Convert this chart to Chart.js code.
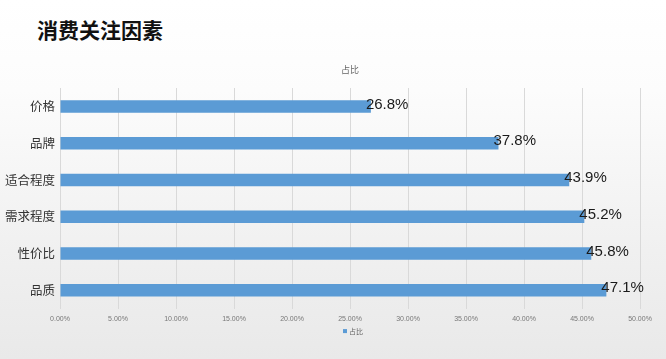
<!DOCTYPE html>
<html>
<head>
<meta charset="utf-8">
<script src="https://cdn.jsdelivr.net/npm/chart.js@4"></script>
<style>
  html, body { margin: 0; padding: 0; }
  body { width: 666px; height: 359px; overflow: hidden; position: relative;
         background: linear-gradient(to bottom, #ffffff 0%, #fcfcfc 25%, #f0f0f0 70%, #e9e9e9 100%);
         font-family: "Noto Sans CJK SC", sans-serif; }
  #title { position: absolute; left: 37px; top: 14px; margin: 0; font-size: 21px; font-weight: 700;
           color: #111; font-family: "Noto Sans CJK SC", sans-serif; line-height: 30px; }
  #wrap { position: absolute; left: 0; top: 0; width: 666px; height: 359px; }
</style>
</head>
<body>
<h1 id="title">消费关注因素</h1>
<div id="wrap"><canvas id="c" width="666" height="359"></canvas></div>
<script>
const categories = ["价格", "品牌", "适合程度", "需求程度", "性价比", "品质"];
const seriesName = "占比";
const values = [26.8, 37.8, 43.9, 45.2, 45.8, 47.1];
const valueLabels = ["26.8%", "37.8%", "43.9%", "45.2%", "45.8%", "47.1%"];
const xTickMax = 50;
const xTickStep = 5;
const barColor = '#5b9bd5';

const extras = {
  id: 'extras',
  afterDatasetsDraw(chart) {
    const ctx = chart.ctx;
    const meta = chart.getDatasetMeta(0);
    const ca = chart.chartArea;
    const cx = (ca.left + ca.right) / 2;
    ctx.save();
    // value labels
    ctx.font = '15px "Liberation Sans", Arial, sans-serif';
    ctx.fillStyle = '#1a1a1a';
    ctx.textAlign = 'left';
    ctx.textBaseline = 'middle';
    meta.data.forEach((bar, i) => {
      ctx.fillText(valueLabels[i], bar.x - 5, bar.y - 2);
    });
    // chart title
    ctx.font = '9px "Noto Sans CJK SC", sans-serif';
    ctx.fillStyle = '#666';
    ctx.textAlign = 'center';
    ctx.fillText(seriesName, cx, ca.top - 18);
    // legend
    ctx.font = '7px "Noto Sans CJK SC", sans-serif';
    ctx.textAlign = 'left';
    const ly = ca.bottom + 23;
    ctx.fillStyle = barColor;
    ctx.fillRect(cx - 7, ly - 2.5, 4, 4);
    ctx.fillStyle = '#666';
    ctx.fillText(seriesName, cx - 1, ly);
    ctx.restore();
  }
};

new Chart(document.getElementById('c'), {
  type: 'bar',
  data: {
    labels: categories,
    datasets: [{
      label: seriesName,
      data: values,
      backgroundColor: barColor,
      borderWidth: 0,
      barPercentage: 0.34,
      categoryPercentage: 1
    }]
  },
  options: {
    indexAxis: 'y',
    responsive: false,
    animation: false,
    devicePixelRatio: 1,
    layout: { padding: { top: 88, left: 0, right: 26, bottom: 30 } },
    plugins: {
      title: { display: false },
      legend: { display: false },
      tooltip: { enabled: false }
    },
    scales: {
      x: {
        min: 0, max: xTickMax,
        ticks: { stepSize: xTickStep, color: '#777', padding: 6,
                 font: { size: 7, family: '"Liberation Sans", Arial, sans-serif' },
                 callback: v => v.toFixed(2) + '%' },
        grid: { color: '#d9d9d9', lineWidth: 1, drawTicks: false },
        border: { display: false }
      },
      y: {
        ticks: { color: '#333', padding: 5,
                 font: { size: 12.5, family: '"Noto Sans CJK SC", sans-serif' } },
        grid: { display: false, drawTicks: false },
        border: { display: false }
      }
    }
  },
  plugins: [extras]
});
</script>
</body>
</html>
